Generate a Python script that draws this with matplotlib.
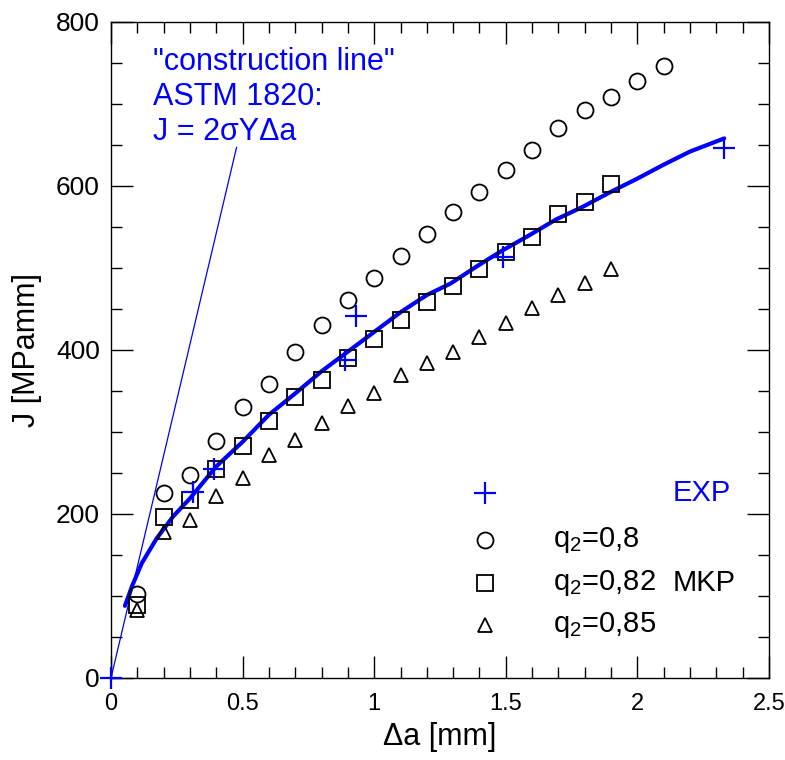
import matplotlib
matplotlib.use("Agg")
import matplotlib.pyplot as plt
import numpy as np

plt.rcParams["font.family"] = ["Liberation Sans", "DejaVu Sans"]
plt.rcParams["mathtext.fontset"] = "custom"
plt.rcParams["mathtext.rm"] = "Liberation Sans"

# q2 = 0.8, 0.82, 0.85 (MKP)
da = [0.1, 0.2, 0.3, 0.4, 0.5, 0.6, 0.7, 0.8, 0.9, 1.0, 1.1,
      1.2, 1.3, 1.4, 1.5, 1.6, 1.7, 1.8, 1.9, 2.0, 2.1]
j_q080 = [102, 225, 248, 289, 330, 358, 397, 431, 461, 488, 514,
          541, 568, 593, 619, 644, 671, 693, 709, 728, 746]
j_q082 = [89, 196, 217, 255, 283, 313, 343, 364, 390, 413, 437,
          458, 478, 499, 520, 538, 566, 581, 602]
j_q085 = [83, 178, 193, 222, 244, 272, 290, 311, 332, 348, 369,
          384, 398, 416, 433, 451, 467, 482, 499]

# experiment
exp_da = [0.0, 0.31, 0.39, 0.89, 0.93, 1.49, 2.33]
exp_j = [0, 227, 255, 388, 441, 513, 646]

# fitted curve
fit_da = [0.053, 0.08, 0.117, 0.173, 0.236, 0.3, 0.4, 0.5, 0.6, 0.7, 0.8, 0.9, 1.0,
          1.1, 1.2, 1.29, 1.39, 1.48, 1.59, 1.69, 1.795, 1.9, 2.0, 2.1, 2.2, 2.33]
fit_j = [88, 112, 140, 170, 197, 219, 258, 288, 321, 347, 374, 398, 422,
         446, 467, 481, 502, 520, 540, 559, 575, 593, 609, 626, 642, 658]

# construction line J = 2*sigmaY*da
cl_da = [0.0, 0.477]
cl_j = [0, 647]

blue = "#0000ff"

fig = plt.figure(figsize=(7.85, 7.6), dpi=100)
ax = fig.add_axes([0.1414, 0.1079, 0.8382, 0.8632])

ax.plot(cl_da, cl_j, color=blue, lw=0.9)
ax.plot(fit_da, fit_j, color=blue, lw=3.0, solid_capstyle="round")
ax.plot(da[:len(j_q080)], j_q080, ls="none", marker="o", ms=11.5,
        mfc="none", mec="black", mew=1.3)
ax.plot(da[:len(j_q082)], j_q082, ls="none", marker="s", ms=11.5,
        mfc="none", mec="black", mew=1.3)
ax.plot(da[:len(j_q085)], j_q085, ls="none", marker="^", ms=10,
        mfc="none", mec="black", mew=1.3)
ax.plot(exp_da, exp_j, ls="none", marker="+", ms=16, mec=blue, mew=1.6,
        clip_on=False, zorder=5)

ax.set_xlim(0, 2.5)
ax.set_ylim(0, 800)
ax.set_xticks(np.arange(0, 2.51, 0.5))
ax.set_xticklabels(["0", "0.5", "1", "1.5", "2", "2.5"])
ax.set_xticks(np.arange(0, 2.51, 0.1), minor=True)
ax.set_yticks(np.arange(0, 801, 200))
ax.set_yticks(np.arange(0, 801, 50), minor=True)
ax.tick_params(which="both", direction="in", top=True, right=True, width=1)
ax.tick_params(which="major", length=16)
ax.tick_params(which="minor", length=8)
ax.tick_params(axis="x", pad=11, labelsize=17)
ax.tick_params(axis="y", pad=8, labelsize=19)
for s in ax.spines.values():
    s.set_linewidth(1)

ax.set_xlabel("Δa [mm]", fontsize=22, labelpad=5)
ax.set_ylabel("J [MPamm]", fontsize=22, labelpad=10)

ax.text(0.064, 0.962, '"construction line"\nASTM 1820:\nJ = 2σYΔa',
        transform=ax.transAxes, color=blue, fontsize=22, va="top",
        ha="left", linespacing=1.22)

# legend drawn by hand
leg_marker = ["+", "o", "s", "^"]
leg_ms = [16, 11.5, 11.5, 10]
leg_color = [blue, "black", "black", "black"]
leg_text = ["", "q$_\\mathregular{2}$=0,8", "q$_\\mathregular{2}$=0,82",
            "q$_\\mathregular{2}$=0,85"]
leg_right = ["EXP", "", "MKP", ""]
leg_y = [0.282, 0.210, 0.145, 0.081]
for m, ms, c, t, r, y in zip(leg_marker, leg_ms, leg_color, leg_text,
                             leg_right, leg_y):
    ax.plot([0.568], [y], transform=ax.transAxes, ls="none", marker=m,
            ms=ms, mfc="none", mec=c, mew=1.6 if m == "+" else 1.3)
    ax.text(0.672, y, t, transform=ax.transAxes, fontsize=21, va="center",
            ha="left", color=c)
    ax.text(0.853, y, r, transform=ax.transAxes, fontsize=21, va="center",
            ha="left", color=c)

fig.savefig("out.png", dpi=100)
